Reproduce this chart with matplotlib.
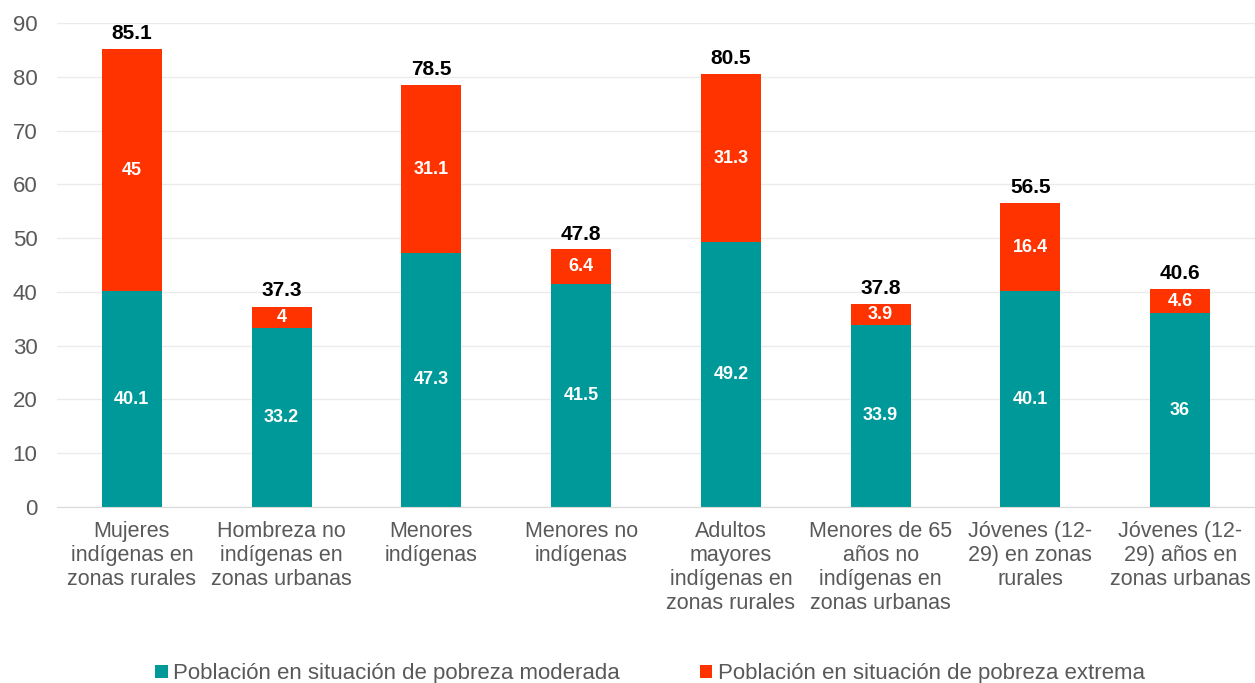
import matplotlib

matplotlib.use("Agg")
import matplotlib.pyplot as plt
import numpy as np

plt.rcParams["font.family"] = ["Liberation Sans", "DejaVu Sans"]

categories = [
    "Mujeres\nindígenas en\nzonas rurales",
    "Hombreza no\nindígenas en\nzonas urbanas",
    "Menores\nindígenas",
    "Menores no\nindígenas",
    "Adultos\nmayores\nindígenas en\nzonas rurales",
    "Menores de 65\naños no\nindígenas en\nzonas urbanas",
    "Jóvenes (12-\n29) en zonas\nrurales",
    "Jóvenes (12-\n29) años en\nzonas urbanas",
]
moderada = [40.1, 33.2, 47.3, 41.5, 49.2, 33.9, 40.1, 36]
extrema = [45, 4, 31.1, 6.4, 31.3, 3.9, 16.4, 4.6]
totales = [85.1, 37.3, 78.5, 47.8, 80.5, 37.8, 56.5, 40.6]

teal = "#009999"
red = "#FF3300"
gray = "#595959"

fig = plt.figure(figsize=(12.55, 6.83), dpi=100)
ax = fig.add_axes([0.0454, 0.2577, 0.9546, 0.7086])

x = np.arange(len(categories))
w = 0.4
b1 = ax.bar(x, moderada, width=w, color=teal, label="Población en situación de pobreza moderada", zorder=2)
b2 = ax.bar(x, extrema, width=w, bottom=moderada, color=red, label="Población en situación de pobreza extrema", zorder=2)

for i in range(len(x)):
    ax.text(x[i], moderada[i] / 2, f"{moderada[i]:g}", ha="center", va="center",
            color="white", fontsize=13, fontweight="bold", zorder=3)
    ax.text(x[i], moderada[i] + extrema[i] / 2, f"{extrema[i]:g}", ha="center", va="center",
            color="white", fontsize=13, fontweight="bold", zorder=3)
    ax.text(x[i], totales[i] + 1.1, f"{totales[i]:g}", ha="center", va="bottom",
            color="black", fontsize=15, fontweight="bold", zorder=3)

ax.set_xlim(-0.5, len(x) - 0.5)
ax.set_ylim(0, 90)
ax.set_yticks(range(0, 91, 10))
ax.set_xticks(x)
ax.set_xticklabels(categories, fontsize=15.5, color=gray, linespacing=1.18)
ax.tick_params(axis="y", labelsize=16, labelcolor=gray, length=0, pad=14)
ax.tick_params(axis="x", length=0, pad=10)
ax.grid(axis="y", color="#EBEBEB", linewidth=1, zorder=0)
for s in ["top", "right", "left"]:
    ax.spines[s].set_visible(False)
ax.spines["bottom"].set_color("#D9D9D9")

fig.legend(handles=[b1, b2], loc="center", bbox_to_anchor=(0.518, 1 - 674 / 683),
           ncol=2, frameon=False, fontsize=16, labelcolor=gray,
           handlelength=0.55, handleheight=0.55, handletextpad=0.25, columnspacing=3.6)

fig.savefig("out.png", dpi=100)
